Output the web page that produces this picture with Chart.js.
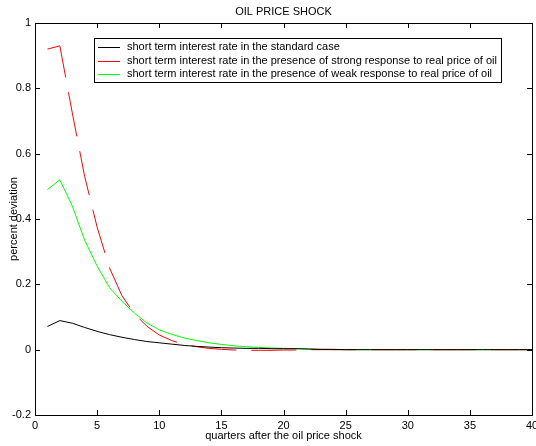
<!DOCTYPE html>
<html>
<head>
<meta charset="utf-8">
<script src="https://cdn.jsdelivr.net/npm/chart.js@4.4.0/dist/chart.umd.min.js"></script>
<style>
  body { margin: 0; background: #fff; }
  canvas { display: block; }
</style>
</head>
<body>
<canvas id="choque" width="536" height="446"></canvas>
<script>
const trimestres = [1,2,3,4,5,6,7,8,9,10,11,12,13,14,15,16,17,18,19,20,21,22,23,24,25,26,27,28,29,30,31,32,33,34,35,36,37,38,39,40];

const padrao = [0.071,0.089,0.081,0.068,0.056,0.046,0.038,0.031,0.025,0.021,0.017,0.013,0.010,0.008,0.006,0.005,0.004,0.004,0.003,0.003,0.003,0.002,0.001,0.001,0,0,0,0,0,0,0,0,0,0,0,0,0,0,0,0];
const forte = [0.92,0.93,0.725,0.53,0.375,0.25,0.165,0.11,0.072,0.045,0.028,0.016,0.009,0.004,0.001,-0.001,-0.002,-0.002,-0.002,-0.001,-0.001,0,0,0,0,0,0,0,0,0,0,0,0,0,0,0,0,0,0,0];
const fraca = [0.49,0.52,0.44,0.335,0.256,0.19,0.148,0.112,0.082,0.061,0.047,0.036,0.028,0.021,0.016,0.012,0.009,0.007,0.005,0.004,0.003,0.002,0.001,0,0,0,0,0,0,0,0,0,0,0,0,0,0,0,0,0];

const legendas = [
    'short term interest rate in the standard case',
    'short term interest rate in the presence of strong response to real price of oil',
    'short term interest rate in the presence of weak response to real price of oil'
];
const cores = ['#000000', '#ff0000', '#00ff00'];

const titulo = 'OIL PRICE SHOCK';
const rotuloX = 'quarters after the oil price shock';
const rotuloY = 'percent deviation';

const fonte = '11px "Liberation Sans", Arial, sans-serif';

const pontos = (serie) => serie.map((v, i) => ({ x: trimestres[i], y: v }));

// moldura estilo matlab: caixa, ticks para dentro, textos e legenda
const moldura = {
    id: 'moldura',
    afterDraw: (chart) => {
        const c = chart.ctx;
        const a = chart.chartArea;
        const sx = chart.scales.x;
        const sy = chart.scales.y;
        c.save();
        c.setLineDash([]);
        c.strokeStyle = '#000';
        c.lineWidth = 1;
        c.strokeRect(Math.round(a.left) + 0.5, Math.round(a.top) + 0.5, Math.round(a.right - a.left), Math.round(a.bottom - a.top));

        c.beginPath();
        sx.ticks.forEach(t => {
            const px = Math.round(sx.getPixelForValue(t.value)) + 0.5;
            c.moveTo(px, a.bottom); c.lineTo(px, a.bottom - 5);
            c.moveTo(px, a.top); c.lineTo(px, a.top + 5);
        });
        sy.ticks.forEach(t => {
            const py = Math.round(sy.getPixelForValue(t.value)) + 0.5;
            c.moveTo(a.left, py); c.lineTo(a.left + 5, py);
            c.moveTo(a.right, py); c.lineTo(a.right - 5, py);
        });
        c.stroke();

        const meio = (a.left + a.right) / 2;
        c.fillStyle = '#000';
        c.font = fonte;
        c.textAlign = 'center';
        c.textBaseline = 'middle';
        c.fillText(titulo, meio, 12);
        c.fillText(rotuloX, meio, 436);

        c.save();
        c.translate(14, (a.top + a.bottom) / 2);
        c.rotate(-Math.PI / 2);
        c.fillText(rotuloY, 0, 0);
        c.restore();

        // legenda
        const lx = 94, ly = 38, lw = 407, lh = 44;
        c.fillStyle = '#fff';
        c.fillRect(lx, ly, lw, lh);
        c.strokeStyle = '#000';
        c.strokeRect(lx + 0.5, ly + 0.5, lw, lh);
        c.textAlign = 'left';
        legendas.forEach((txt, i) => {
            const yy = ly + 9 + i * 13.5;
            c.fillStyle = cores[i];
            c.fillRect(98, Math.round(yy), 22, 1);
            c.fillStyle = '#000';
            c.fillText(txt, 127, yy);
        });
        c.restore();
    }
};

new Chart(document.getElementById('choque'), {
    type: 'line',
    data: {
        datasets: [{
            label: legendas[0],
            data: pontos(padrao),
            borderColor: cores[0],
            borderWidth: 1,
            pointRadius: 0,
        },
        {
            label: legendas[1],
            data: pontos(forte),
            borderColor: cores[1],
            borderWidth: 1,
            borderDash: [45, 15],
            pointRadius: 0,
        },
        {
            label: legendas[2],
            data: pontos(fraca),
            borderColor: cores[2],
            borderWidth: 1,
            pointRadius: 0,
        }],
    },
    options: {
        responsive: false,
        animation: false,
        layout: {
            padding: { top: 23, left: 0, right: 4, bottom: 0 }
        },
        plugins: {
            legend: { display: false },
            title: { display: false },
            tooltip: { enabled: false },
        },
        scales: {
            x: {
                type: 'linear',
                min: 0,
                max: 40,
                ticks: {
                    stepSize: 5,
                    padding: 4,
                    color: '#000',
                    font: { family: '"Liberation Sans", Arial, sans-serif', size: 11 },
                    maxRotation: 0,
                },
                grid: { display: false, drawTicks: false },
                border: { display: false },
                afterFit: (scale) => {
                    scale.height = 31;
                    scale.paddingLeft = 0;
                    scale.paddingRight = 0;
                }
            },
            y: {
                min: -0.2,
                max: 1,
                ticks: {
                    stepSize: 0.2,
                    padding: 4,
                    color: '#000',
                    font: { family: '"Liberation Sans", Arial, sans-serif', size: 11 },
                    callback: (v) => parseFloat(v.toFixed(1)).toString(),
                },
                grid: { display: false, drawTicks: false },
                border: { display: false },
                afterFit: (scale) => {
                    scale.width = 35;
                    scale.paddingTop = 0;
                    scale.paddingBottom = 0;
                }
            }
        }
    },
    plugins: [moldura]
});
</script>
</body>
</html>
